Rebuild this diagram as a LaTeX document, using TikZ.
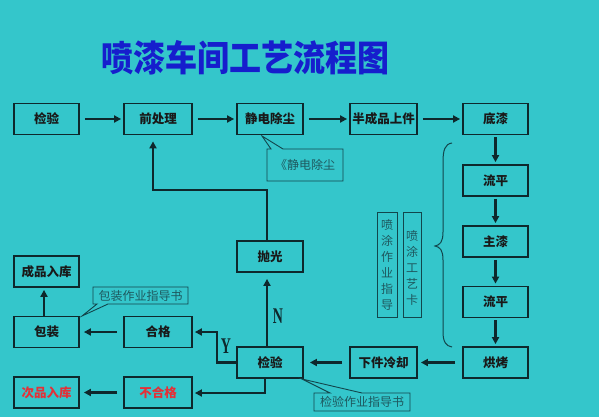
\documentclass[tikz,border=0pt]{standalone}
\usepackage{fontspec}
\newfontfamily\cjk{Noto Sans CJK SC}
\newfontfamily\yn{Liberation Serif}
\usetikzlibrary{arrows.meta,calc}
\definecolor{bg}{RGB}{52,198,203}
\definecolor{edge}{RGB}{14,40,44}
\definecolor{titleblue}{RGB}{22,30,205}
\definecolor{redtxt}{RGB}{228,48,56}
\definecolor{calltxt}{RGB}{30,88,94}
\definecolor{calledge}{RGB}{18,70,76}
\tikzset{
  box/.style={draw=edge,line width=1.8pt,minimum width=65pt,minimum height=31pt,inner sep=0pt,
    font=\cjk\bfseries\fontsize{12.5pt}{14pt}\selectfont,text=black!90},
  redbox/.style={box,text=redtxt},
  arr/.style={draw=edge,line width=2.2pt,-{Triangle[length=7pt,width=7pt]}},
  callout/.style={draw=calledge,line width=0.9pt},
  calltext/.style={font=\cjk\fontsize{12pt}{16pt}\selectfont,text=calltxt,inner sep=0pt},
  ynlab/.style={font=\yn\bfseries\fontsize{14pt}{14pt}\selectfont,yscale=1.6,text=edge}
}
\begin{document}
\begin{tikzpicture}[x=1pt,y=-1pt]
\fill[bg] (0,0) rectangle (599,417);
\useasboundingbox (0,0) rectangle (599,417);
% title
\node[font=\cjk\bfseries\fontsize{32pt}{34pt}\selectfont,text=titleblue,yscale=1.12] (title) at (245,58) {喷漆车间工艺流程图};
% row 1
\node[box] (jy1) at (46.5,119) {检验};
\node[box,minimum width=68pt] (qcl) at (158,119) {前处理};
\node[box,minimum width=66pt] (jd) at (270,119) {静电除尘};
\node[box,minimum width=67pt] (bcp) at (383.5,119) {半成品上件};
\node[box] (dq) at (495.5,119) {底漆};
% right column
\node[box] (lp1) at (495.5,180.5) {流平};
\node[box] (zq) at (495.5,241.5) {主漆};
\node[box] (lp2) at (495.5,302) {流平};
\node[box] (hk) at (495.5,362.5) {烘烤};
% bottom
\node[box,minimum width=67pt] (xj) at (383.5,362.5) {下件冷却};
\node[box,minimum width=66pt] (jy2) at (270,362.5) {检验};
\node[box,minimum width=66pt] (pg) at (270,256.5) {抛光};
\node[box,minimum width=68pt] (hg) at (158,332) {合格};
\node[box] (bz) at (46.5,332) {包装};
\node[box] (cp) at (46.5,271.5) {成品入库};
\node[redbox] (cipin) at (46.5,392.5) {次品入库};
\node[redbox,minimum width=68pt] (bhg) at (158,392.5) {不合格};
% row 1 arrows
\draw[arr,shorten <=5pt,shorten >=2pt] (jy1.east) -- (qcl.west);
\draw[arr,shorten <=5pt,shorten >=2pt] (qcl.east) -- (jd.west);
\draw[arr,shorten <=5pt,shorten >=2pt] (jd.east) -- (bcp.west);
\draw[arr,shorten <=5pt,shorten >=2pt] (bcp.east) -- (dq.west);
% column arrows
\draw[arr,shorten <=2pt,shorten >=2pt] (dq.south) -- (lp1.north);
\draw[arr,shorten <=2pt,shorten >=2pt] (lp1.south) -- (zq.north);
\draw[arr,shorten <=2pt,shorten >=2pt] (zq.south) -- (lp2.north);
\draw[arr,shorten <=2pt,shorten >=2pt] (lp2.south) -- (hk.north);
% bottom arrows
\draw[arr,shorten <=7pt,shorten >=3pt] (hk.west) -- (xj.east);
\draw[arr,shorten <=7pt,shorten >=6pt] (xj.west) -- (jy2.east);
\draw[arr,shorten <=6pt,shorten >=4pt] (hg.west) -- (bz.east);
\draw[arr,shorten <=6pt,shorten >=4pt] (bhg.west) -- (cipin.east);
\draw[arr,shorten >=2pt] (bz.north -| 44,0) -- (cp.south -| 44,0);
% N path and return to pretreatment
\draw[arr,shorten >=6pt] (jy2.north -| 267,0) -- (pg.south -| 267,0);
\coordinate (ret1) at (267,190);
\coordinate (ret2) at (153,190);
\draw[arr,shorten >=6pt] (pg.north -| ret1) -- (ret1) -- (ret2) -- (qcl.south -| ret2);
% Y path
\coordinate (ybend) at (217,332);
\draw[arr,shorten >=2pt] (jy2.west) -| (ybend) -- (hg.east);
% unqualified path
\coordinate (bbend) at (265,393);
\draw[arr,shorten >=2pt] (jy2.south -| bbend) -- (bbend) -- (bhg.east |- bbend);
\node[ynlab] (nlab) at (278,316) {N};
\node[ynlab] (ylab) at (226,346) {Y};
% callouts
\draw[callout] (267,149) -- (271,149) -- (262,136) -- (283,149) -- (343,149) -- (343,181) -- (267,181) -- cycle;
\node[calltext] (c1) at (305,165) {《静电除尘};
\draw[callout] (93,287) -- (188,287) -- (188,304) -- (108,304) -- (82,316) -- (97,304) -- (93,304) -- cycle;
\node[calltext] (c2) at (140.5,295.5) {包装作业指导书};
\draw[callout] (314,393) -- (330,393) -- (302,379) -- (362,393) -- (410,393) -- (410,411) -- (314,411) -- cycle;
\node[calltext] (c3) at (362,402) {检验作业指导书};
% vertical cards
\draw[callout] (377,212) rectangle (397,317);
\node[calltext,align=center] (v1) at (387,264.5) {喷\\涂\\作\\业\\指\\导};
\draw[callout] (403,212) rectangle (421,317);
\node[calltext,align=center] (v2) at (412,268) {喷\\涂\\工\\艺\\卡};
% brace
\draw[calledge,line width=1pt] (452,143) .. controls (445,144) and (443,150) .. (443,162) -- (443,232)
  .. controls (443,242) and (440,245) .. (435,246) .. controls (440,247) and (443,250) .. (443,260)
  -- (443,332) .. controls (443,342) and (446,346) .. (452,347);
\end{tikzpicture}
\end{document}
